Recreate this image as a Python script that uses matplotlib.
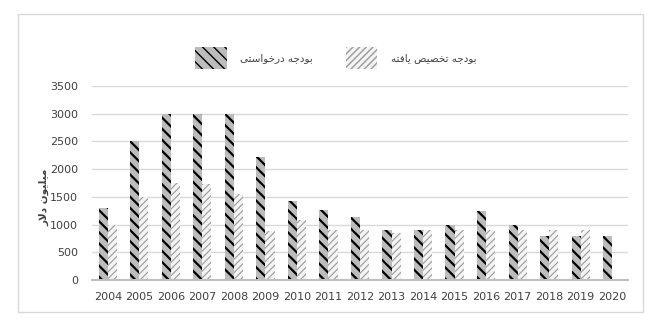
import numpy as np
import matplotlib
matplotlib.use('Agg')
import matplotlib.pyplot as plt
from matplotlib.patches import Rectangle, Patch

plt.rcParams['font.family'] = ['DejaVu Sans']

years = ['2004', '2005', '2006', '2007', '2008', '2009', '2010', '2011', '2012',
         '2013', '2014', '2015', '2016', '2017', '2018', '2019', '2020']
requested = [1300, 2500, 3000, 3000, 3000, 2220, 1420, 1270, 1130,
             900, 900, 1000, 1250, 1000, 800, 800, 800]
allocated = [1000, 1490, 1750, 1730, 1550, 880, 1090, 900, 900,
             840, 900, 900, 900, 900, 900, 900, 0]

label_requested = 'بودجه درخواستی'
label_allocated = 'بودجه تخصیص یافته'
label_y = 'میلیون دلار'

# presentation forms: isolated, final, initial, medial
forms = {
    'ا': ('\uFE8D', '\uFE8E', None, None),
    'ب': ('\uFE8F', '\uFE90', '\uFE91', '\uFE92'),
    'ت': ('\uFE95', '\uFE96', '\uFE97', '\uFE98'),
    'ج': ('\uFE9D', '\uFE9E', '\uFE9F', '\uFEA0'),
    'خ': ('\uFEA5', '\uFEA6', '\uFEA7', '\uFEA8'),
    'د': ('\uFEA9', '\uFEAA', None, None),
    'ر': ('\uFEAD', '\uFEAE', None, None),
    'س': ('\uFEB1', '\uFEB2', '\uFEB3', '\uFEB4'),
    'ص': ('\uFEB9', '\uFEBA', '\uFEBB', '\uFEBC'),
    'ف': ('\uFED1', '\uFED2', '\uFED3', '\uFED4'),
    'ل': ('\uFEDD', '\uFEDE', '\uFEDF', '\uFEE0'),
    'م': ('\uFEE1', '\uFEE2', '\uFEE3', '\uFEE4'),
    'ن': ('\uFEE5', '\uFEE6', '\uFEE7', '\uFEE8'),
    'ه': ('\uFEE9', '\uFEEA', '\uFEEB', '\uFEEC'),
    'و': ('\uFEED', '\uFEEE', None, None),
    'ی': ('\uFBFC', '\uFBFD', '\uFBFE', '\uFBFF'),
}


def shape(text):
    '''join persian letters by hand, then reverse for left-to-right drawing'''
    out = []
    chars = list(text)
    i = 0
    while i < len(chars):
        c = chars[i]
        if c not in forms:
            out.append(c)
            i += 1
            continue
        prev = chars[i - 1] if i > 0 else ' '
        joins_prev = prev in forms and forms[prev][2] is not None
        # lam + alef ligature
        if c == 'ل' and i + 1 < len(chars) and chars[i + 1] == 'ا':
            out.append('\uFEFC' if joins_prev else '\uFEFB')
            i += 2
            continue
        nxt = chars[i + 1] if i + 1 < len(chars) else ' '
        joins_next = forms[c][2] is not None and nxt in forms
        iso, fin, ini, med = forms[c]
        if joins_prev and joins_next:
            out.append(med)
        elif joins_prev:
            out.append(fin)
        elif joins_next:
            out.append(ini)
        else:
            out.append(iso)
        i += 1
    return ''.join(out)[::-1]


fig = plt.figure(figsize=(6.55, 3.2), dpi=100)
fig.patches.append(Rectangle((18 / 655, 1 - 312 / 320), 625 / 655, 298 / 320,
                             transform=fig.transFigure, fill=False,
                             edgecolor='#d9d9d9', linewidth=1))
ax = fig.add_axes([92 / 655, 1 - 280 / 320, 536 / 655, 194 / 320])

HATCH_REQ = '\\\\\\'
HATCH_ALL = '/////'
x = np.arange(len(years))
w = 0.29
b1 = ax.bar(x - w / 2, requested, w, color='#bcbcbc', edgecolor='black',
            hatch=HATCH_REQ, linewidth=0, zorder=3)
b2 = ax.bar(x + w / 2, allocated, w, color='#f4f4f4', edgecolor='#9a9a9a',
            hatch=HATCH_ALL, linewidth=0, zorder=3)
for p in b1:
    if hasattr(p, 'set_hatch_linewidth'):
        p.set_hatch_linewidth(1.6)
for p in b2:
    if hasattr(p, 'set_hatch_linewidth'):
        p.set_hatch_linewidth(0.8)

ax.set_xlim(-0.5, len(years) - 0.5)
ax.set_ylim(0, 3500)
ax.set_yticks(range(0, 3501, 500))
ax.set_xticks(x)
ax.set_xticklabels(years)
ax.tick_params(length=0, labelsize=8, labelcolor='#404040')
ax.tick_params(axis='x', pad=9)
ax.tick_params(axis='y', pad=10)
ax.yaxis.grid(True, color='#d9d9d9', linewidth=1, zorder=0)
for s in ['top', 'right', 'left']:
    ax.spines[s].set_visible(False)
ax.spines['bottom'].set_color('#bfbfbf')
ax.spines['bottom'].set_linewidth(1.5)
ax.spines['bottom'].set_zorder(4)

fig.text(44 / 655, 1 - 197 / 320, shape(label_y), rotation=90, ha='center',
         va='center', fontsize=7.5, fontweight='bold', color='#404040')

h1 = Patch(facecolor='#bcbcbc', edgecolor='black', hatch=HATCH_REQ, linewidth=0)
h2 = Patch(facecolor='#f4f4f4', edgecolor='#9a9a9a', hatch=HATCH_ALL, linewidth=0)
if hasattr(h1, 'set_hatch_linewidth'):
    h1.set_hatch_linewidth(1.6)
    h2.set_hatch_linewidth(0.8)
leg = fig.legend([h1, h2], [shape(label_requested), shape(label_allocated)],
                 loc='center', bbox_to_anchor=(336 / 655, 1 - 58 / 320), ncol=2,
                 frameon=False, fontsize=7.5, handlelength=3.0, handleheight=3.0,
                 handletextpad=1.3, columnspacing=3.2)
for t in leg.get_texts():
    t.set_color('#404040')

plt.savefig('out.png', dpi=100)
